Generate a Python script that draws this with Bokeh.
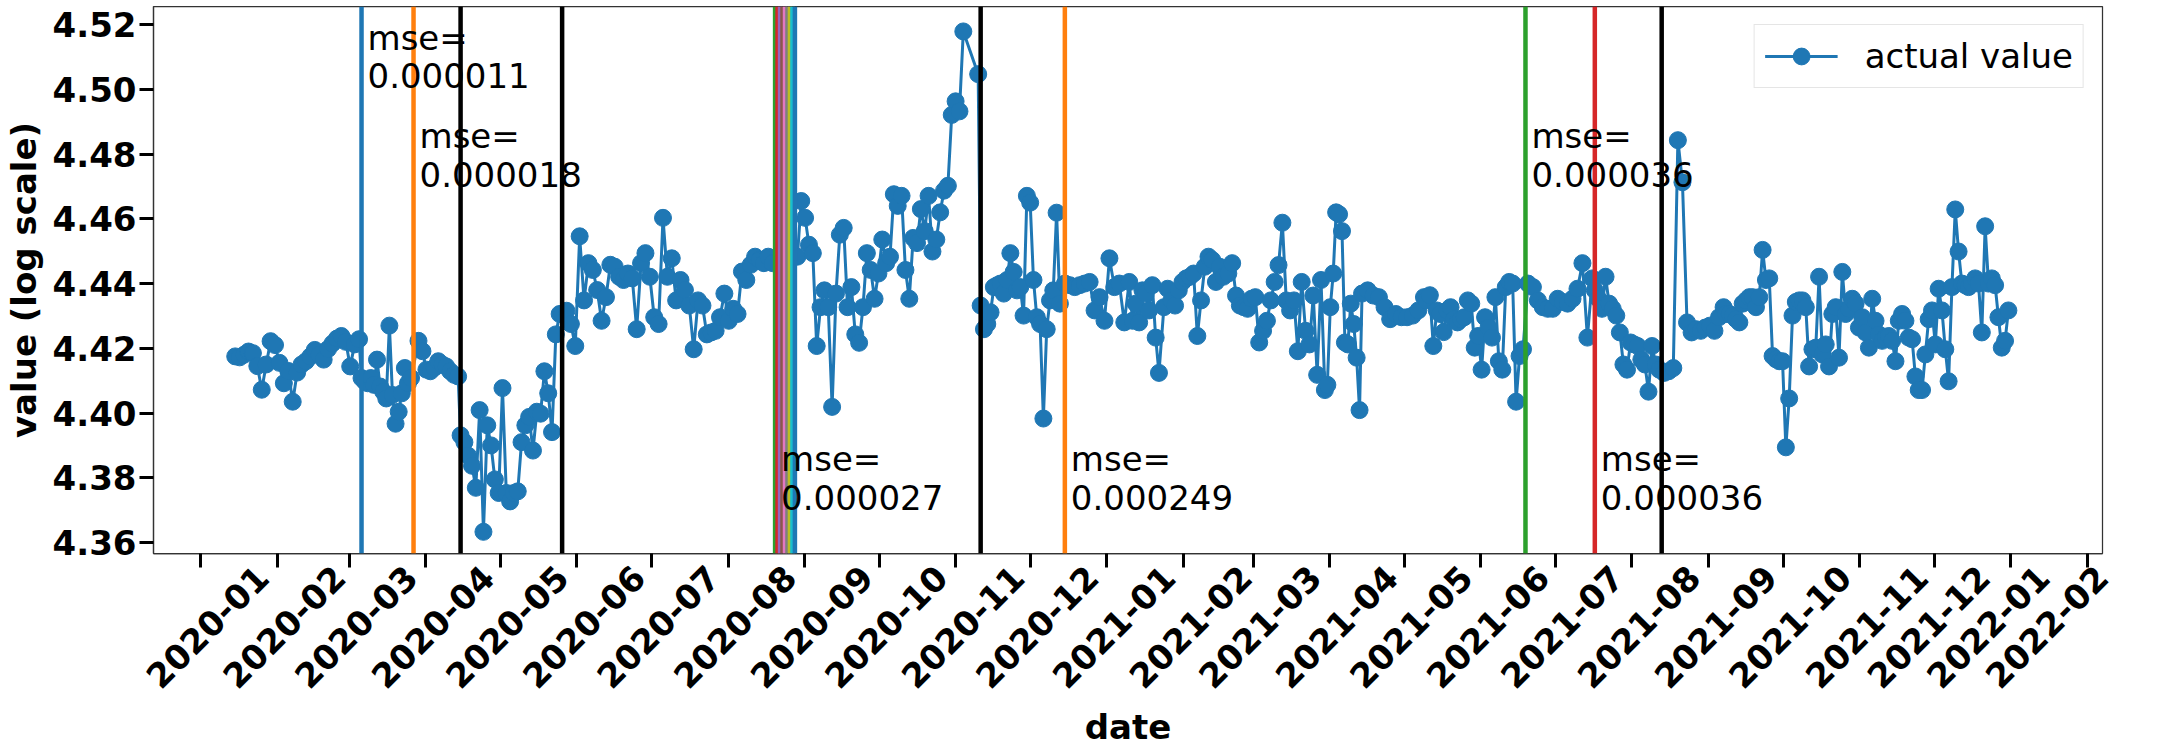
import math
import pandas as pd
from bokeh.plotting import figure
from bokeh.models import (Range1d, FixedTicker, DatetimeTickFormatter, DatetimeAxis,
                          NumeralTickFormatter, Span, LabelSet, ColumnDataSource)
from bokeh.embed import file_html
from bokeh.resources import INLINE
from bokeh.core.properties import value

# ---------------- data ----------------
# each segment: start date, end date, values evenly spread in between
s1_dates = ("2020-01-15", "2020-03-05")
s1_vals = [4.4175, 4.4172, 4.4180, 4.4190, 4.4185, 4.4145, 4.4072, 4.4150, 4.4222, 4.4210,
           4.4155, 4.4092, 4.4130, 4.4035, 4.4125, 4.4150, 4.4160, 4.4175, 4.4195, 4.4180,
           4.4165, 4.4198, 4.4215, 4.4230, 4.4238, 4.4220, 4.4144, 4.4212, 4.4228]
s2_dates = ("2020-03-06", "2020-03-26")
s2_vals = [4.4108, 4.4098, 4.4092, 4.4108, 4.4087, 4.4165, 4.4082, 4.4066, 4.4045, 4.4270,
           4.4056, 4.3967, 4.4004, 4.4061, 4.4139, 4.4092, 4.4108]
s3_dates = ("2020-03-29", "2020-04-14")
s3_vals = [4.4223, 4.4191, 4.4134, 4.4129, 4.4140, 4.4160, 4.4150, 4.4144, 4.4129, 4.4118, 4.4113]
s4_dates = ("2020-04-15", "2020-05-25")
s4_vals = [4.3931, 4.3910, 4.3868, 4.3837, 4.3769, 4.4009, 4.3633, 4.3962, 4.3900, 4.3795,
           4.3753, 4.4077, 4.3753, 4.3727, 4.3753, 4.3758, 4.3910, 4.3962, 4.3988, 4.3884,
           4.4004, 4.3998, 4.4129, 4.4061, 4.3941, 4.4243, 4.4306]
s5_dates = ("2020-05-26", "2020-08-19")
s5_vals = [4.4306, 4.4316, 4.4275, 4.4207, 4.4546, 4.4348, 4.4463, 4.4442, 4.4380, 4.4285,
           4.4358, 4.4458, 4.4452, 4.4421, 4.4411, 4.4431, 4.4416, 4.4259, 4.4463, 4.4494,
           4.4421, 4.4296, 4.4275, 4.4603, 4.4421, 4.4478, 4.4348, 4.4411, 4.4380, 4.4332,
           4.4197, 4.4348, 4.4332, 4.4243, 4.4249, 4.4254, 4.4296, 4.4369, 4.4285, 4.4322,
           4.4306, 4.4437, 4.4411, 4.4458, 4.4483, 4.4473, 4.4463, 4.4483, 4.4463]
s6_dates = ("2020-08-29", "2020-11-04")
s6_vals = [4.4483, 4.4655, 4.4603, 4.4520, 4.4494, 4.4207, 4.4327, 4.4379, 4.4327, 4.4019,
           4.4369, 4.4551, 4.4572, 4.4327, 4.4389, 4.4243, 4.4217, 4.4327, 4.4494, 4.4442,
           4.4353, 4.4431, 4.4536, 4.4463, 4.4483, 4.4676, 4.4640, 4.4671, 4.4442, 4.4353,
           4.4541, 4.4525, 4.4630, 4.4562, 4.4671, 4.4499, 4.4536, 4.4620, 4.4687, 4.4702,
           4.4921, 4.4963, 4.4932, 4.5179]
s6b_dates = ("2020-11-10", "2020-11-10")
s6b_vals = [4.5047]
s7_dates = ("2020-11-11", "2020-12-13")
s7_vals = [4.4332, 4.4259, 4.4275, 4.4311, 4.4389, 4.4395, 4.4400, 4.4369, 4.4411, 4.4494,
           4.4436, 4.4379, 4.4389, 4.4301, 4.4671, 4.4650, 4.4411, 4.4296, 4.4275, 4.3983,
           4.4259, 4.4348, 4.4379, 4.4619, 4.4338]
s8_dates = ("2020-12-15", "2021-01-08")
s8_vals = [4.4400, 4.4395, 4.4389, 4.4395, 4.4400, 4.4405, 4.4317, 4.4358, 4.4285, 4.4478,
           4.4389, 4.4400, 4.4280]
s9_dates = ("2021-01-10", "2021-01-22")
s9_vals = [4.4405, 4.4285, 4.4338, 4.4280, 4.4379, 4.4369, 4.4317, 4.4395, 4.4233, 4.4124]
s10_dates = ("2021-01-24", "2021-02-17")
s10_vals = [4.4327, 4.4384, 4.4348, 4.4332, 4.4379, 4.4405, 4.4416, 4.4421, 4.4431, 4.4238,
            4.4348, 4.4452, 4.4483, 4.4473, 4.4405, 4.4452, 4.4421]
s11_dates = ("2021-02-19", "2021-03-30")
s11_vals = [4.4431, 4.4463, 4.4363, 4.4332, 4.4327, 4.4322, 4.4353, 4.4358, 4.4218, 4.4254,
            4.4285, 4.4348, 4.4405, 4.4457, 4.4588, 4.4348, 4.4317, 4.4348, 4.4191, 4.4405,
            4.4254, 4.4212, 4.4363, 4.4118, 4.4411, 4.4071]
s12_dates = ("2021-03-31", "2021-04-13")
s12_vals = [4.4087, 4.4327, 4.4431, 4.4620, 4.4614, 4.4562, 4.4218, 4.4212, 4.4338, 4.4275,
            4.4171, 4.4009]
s13_dates = ("2021-04-14", "2021-05-09")
s13_vals = [4.4369, 4.4379, 4.4363, 4.4358, 4.4327, 4.4290, 4.4306, 4.4296, 4.4296, 4.4301,
            4.4317, 4.4358]
s14_dates = ("2021-05-10", "2021-06-18")
s14_vals = [4.4348, 4.4364, 4.4207, 4.4317, 4.4306, 4.4250, 4.4317, 4.4327, 4.4290, 4.4280,
            4.4290, 4.4296, 4.4348, 4.4338, 4.4202, 4.4238, 4.4134, 4.4296, 4.4264, 4.4233,
            4.4358, 4.4160, 4.4134, 4.4389, 4.4405, 4.4400, 4.4035, 4.4176, 4.4197]
s15_dates = ("2021-06-20", "2021-07-16")
s15_vals = [4.4400, 4.4389, 4.4348, 4.4327, 4.4322, 4.4322, 4.4353, 4.4343, 4.4338, 4.4353,
            4.4384, 4.4463, 4.4233, 4.4416]
s16_dates = ("2021-07-17", "2021-08-12")
s16_vals = [4.4379, 4.4353, 4.4322, 4.4421, 4.4338, 4.4322, 4.4301, 4.4249, 4.4150, 4.4134,
            4.4218, 4.4212, 4.4207, 4.4165, 4.4150, 4.4066, 4.4207, 4.4150, 4.4134]
s17_dates = ("2021-08-14", "2021-09-07")
s17_vals = [4.4124, 4.4129, 4.4139, 4.4843, 4.4713, 4.4280, 4.4249, 4.4259, 4.4254, 4.4264,
            4.4270, 4.4254, 4.4296, 4.4327]
s18_dates = ("2021-09-08", "2021-12-31")
s18_vals = [4.4306, 4.4306, 4.4301, 4.4290, 4.4280, 4.4338, 4.4348, 4.4358, 4.4358, 4.4327,
            4.4358, 4.4504, 4.4411, 4.4416, 4.4176, 4.4166, 4.4160, 4.4160, 4.3894, 4.4045,
            4.4301, 4.4343, 4.4348, 4.4348, 4.4327, 4.4144, 4.4197, 4.4202, 4.4421, 4.4181,
            4.4212, 4.4144, 4.4306, 4.4327, 4.4171, 4.4436, 4.4306, 4.4322, 4.4353, 4.4338,
            4.4264, 4.4296, 4.4249, 4.4202, 4.4353, 4.4285, 4.4243, 4.4223, 4.4233, 4.4238,
            4.4223, 4.4160, 4.4285, 4.4306, 4.4285, 4.4233, 4.4228, 4.4113, 4.4071, 4.4071,
            4.4181, 4.4290, 4.4317, 4.4212, 4.4384, 4.4317, 4.4197, 4.4098, 4.4389, 4.4629,
            4.4499, 4.4400, 4.4395, 4.4389, 4.4400, 4.4416, 4.4400, 4.4249, 4.4577, 4.4400,
            4.4416, 4.4395, 4.4296, 4.4202, 4.4223, 4.4317]

segments = [(s1_dates, s1_vals), (s2_dates, s2_vals), (s3_dates, s3_vals), (s4_dates, s4_vals),
            (s5_dates, s5_vals), (s6_dates, s6_vals), (s6b_dates, s6b_vals), (s7_dates, s7_vals),
            (s8_dates, s8_vals), (s9_dates, s9_vals), (s10_dates, s10_vals), (s11_dates, s11_vals),
            (s12_dates, s12_vals), (s13_dates, s13_vals), (s14_dates, s14_vals),
            (s15_dates, s15_vals), (s16_dates, s16_vals), (s17_dates, s17_vals),
            (s18_dates, s18_vals)]

# vertical lines (dates, colours)
vline_dates = ["2020-03-06", "2020-03-27", "2020-04-15", "2020-05-26",
               "2020-08-20", "2020-08-21", "2020-08-22", "2020-08-23", "2020-08-24",
               "2020-08-25", "2020-08-26", "2020-08-27", "2020-08-28",
               "2020-11-11", "2020-12-15", "2021-06-19", "2021-07-17", "2021-08-13"]
vline_colors = ["#1f77b4", "#ff7f0e", "black", "black",
                "#2ca02c", "#d62728", "#9467bd", "#8c564b", "#e377c2",
                "#7f7f7f", "#bcbd22", "#17becf", "#1f77b4",
                "black", "#ff7f0e", "#2ca02c", "#d62728", "black"]

# mse annotations
mse_dates = ["2020-03-06", "2020-03-27", "2020-08-20", "2020-12-15", "2021-06-19", "2021-07-17"]
mse_y = [4.5222, 4.4918, 4.3919, 4.3919, 4.4918, 4.3919]
mse_text = ["mse=\n0.000011", "mse=\n0.000018", "mse=\n0.000027", "mse=\n0.000249",
            "mse=\n0.000036", "mse=\n0.000036"]

y_ticks = [4.36, 4.38, 4.40, 4.42, 4.44, 4.46, 4.48, 4.50, 4.52]
x_tick_months = list(pd.date_range("2020-01-01", "2022-02-01", freq="MS"))
x_start, x_end = pd.Timestamp("2019-12-13"), pd.Timestamp("2022-02-07")

# ---------------- build ----------------
xs, ys = [], []
for (d0, d1), vals in segments:
    if len(vals) == 1:
        ds = [pd.Timestamp(d0)]
    else:
        ds = list(pd.date_range(d0, d1, periods=len(vals)))
    xs += ds
    ys += vals
src = ColumnDataSource(dict(x=xs, y=ys))

FONT = "DejaVu Sans"
BLUE = "#1f77b4"

p = figure(width=2160, height=749, output_backend="svg", toolbar_location=None,
           x_axis_type="datetime",
           x_range=Range1d(x_start, x_end),
           y_range=Range1d(4.3566, 4.5256),
           min_border_left=148, min_border_right=58, min_border_top=6, min_border_bottom=150)
p.xgrid.visible = False
p.ygrid.visible = False
p.outline_line_color = "#333333"
p.outline_line_width = 1.25
p.outline_line_alpha = 1

p.line("x", "y", source=src, line_color=BLUE, line_width=3, legend_label="actual value")
p.scatter("x", "y", source=src, size=17, fill_color=BLUE, line_color=BLUE,
          legend_label="actual value")

for d, c in zip(vline_dates, vline_colors):
    p.add_layout(Span(location=pd.Timestamp(d).timestamp() * 1000, dimension="height",
                      line_color=c, line_width=4.5))

lab_src = ColumnDataSource(dict(x=[pd.Timestamp(d) for d in mse_dates], y=mse_y, text=mse_text))
p.add_layout(LabelSet(x="x", y="y", text="text", source=lab_src, x_offset=6,
                      text_baseline="top", text_align="left", text_font=value(FONT),
                      text_font_size="34px", text_color="black", text_line_height=0.97))

def style_axis(ax):
    ax.axis_label_text_font = FONT
    ax.axis_label_text_font_size = "34px"
    ax.axis_label_text_font_style = "bold"
    ax.axis_label_text_color = "black"
    ax.major_label_text_font = FONT
    ax.major_label_text_font_size = "34px"
    ax.major_label_text_font_style = "bold"
    ax.major_label_text_color = "black"
    ax.axis_line_color = "#333333"
    ax.axis_line_width = 1.25
    ax.major_tick_line_color = "black"
    ax.major_tick_line_width = 3
    ax.major_tick_out = 14
    ax.major_tick_in = 0
    ax.minor_tick_line_color = None

# main x axis: tick marks at month starts (its own labels switched off)
xa = p.below[0]
style_axis(xa)
xa.ticker = FixedTicker(ticks=[m.timestamp() * 1000 for m in x_tick_months])
xa.major_label_text_color = None
xa.major_label_standoff = 0

# label axis: labels centred under the ticks like matplotlib's rotated labels.
# A label anchor must stay inside the x range, so the last few step in gradually.
label_shift_days = [25] * (len(x_tick_months) - 3) + [20, 13, 6]
label_ticks = [(min(m + pd.Timedelta(days=s), x_end - pd.Timedelta(hours=6))).timestamp() * 1000
               for m, s in zip(x_tick_months, label_shift_days)]
xl = DatetimeAxis(ticker=FixedTicker(ticks=label_ticks),
                  formatter=DatetimeTickFormatter(days="%Y-%m", months="%Y-%m", years="%Y-%m",
                                                  hours="%Y-%m"))
style_axis(xl)
xl.axis_line_color = None
xl.major_tick_line_color = None
xl.major_tick_out = 0
xl.major_label_standoff = 4
xl.major_label_orientation = math.pi / 4
xl.axis_label = "date"
xl.axis_label_standoff = 4
p.add_layout(xl, "below")

ya = p.left[0]
style_axis(ya)
ya.ticker = FixedTicker(ticks=y_ticks)
ya.formatter = NumeralTickFormatter(format="0.00")
ya.major_label_standoff = 3
ya.axis_label = "value (log scale)"
ya.axis_label_standoff = 6

leg = p.legend[0]
leg.location = "top_right"
leg.margin = 18
leg.padding = 10
leg.spacing = 0
leg.glyph_width = 73
leg.glyph_height = 42
leg.label_standoff = 27
leg.label_text_font = FONT
leg.label_text_font_size = "34px"
leg.label_text_color = "black"
leg.border_line_color = "#cccccc"
leg.border_line_width = 1.5
leg.background_fill_alpha = 0.8

open("out.html", "w").write(file_html(p, INLINE))
